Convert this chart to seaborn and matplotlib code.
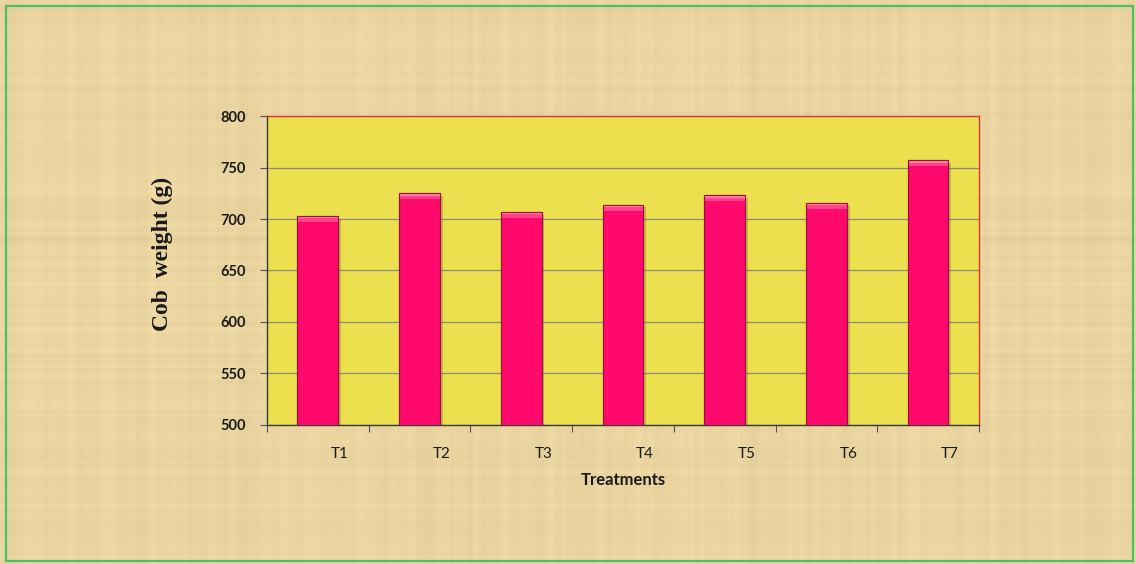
import numpy as np
import pandas as pd
import matplotlib
matplotlib.use("Agg")
import matplotlib.pyplot as plt
import matplotlib.transforms as mtransforms
import matplotlib.patheffects as pe
from matplotlib.patches import Rectangle
import seaborn as sns

# Cob weight per treatment
treatments = ["T1", "T2", "T3", "T4", "T5", "T6", "T7"]
cob_weight = [703, 725, 707, 714, 723, 716, 757]
y_ticks = [500, 550, 600, 650, 700, 750, 800]

df = pd.DataFrame({"Treatments": treatments, "Cob weight": cob_weight})

sns.set_theme(style="ticks")
plt.rcParams["font.family"] = ["Lato", "DejaVu Sans"]

PAPER = "#ebd6a2"
PLOT_BG = "#ece04f"
BAR = "#ff0a6c"

fig = plt.figure(figsize=(11.36, 5.64), dpi=100)
fig.patch.set_facecolor(PAPER)

# papyrus-like fibre texture behind everything
rng = np.random.default_rng(7)
h, w = 564, 1136
rows = np.convolve(rng.normal(0, 1, h + 20), np.ones(5) / 5, mode="same")[10:h + 10]
cols = np.convolve(rng.normal(0, 1, w + 20), np.ones(7) / 7, mode="same")[10:w + 10]
tex = 0.5 * rows[:, None] + 0.5 * cols[None, :]
tex = tex / np.abs(tex).max()
base = np.array(matplotlib.colors.to_rgb(PAPER))
img = np.clip(base[None, None, :] + 0.05 * tex[:, :, None], 0, 1)
bg_ax = fig.add_axes([0, 0, 1, 1], zorder=-10)
bg_ax.imshow(img, aspect="auto", extent=[0, 1, 0, 1], interpolation="bilinear")
bg_ax.axis("off")

ax = fig.add_axes([0.235, 0.2465, 0.6268, 0.5478])
ax.set_facecolor(PLOT_BG)

sns.barplot(data=df, x="Treatments", y="Cob weight", color=BAR, width=0.4,
            saturation=1, edgecolor="#9a1040", linewidth=0.8, ax=ax, zorder=3)

# bevelled top and soft drop shadow on each bar
for p in ax.patches:
    p.set_path_effects([pe.SimplePatchShadow(offset=(2, -2), shadow_rgbFace="#6b5a20", alpha=0.3),
                        pe.Normal()])
    x0, y0 = p.get_x(), p.get_y()
    bw, bh = p.get_width(), p.get_height()
    top = y0 + bh
    ax.add_patch(Rectangle((x0, top - 6), bw, 6, facecolor="#ff4f90", edgecolor="none",
                           alpha=0.85, zorder=4))
    ax.add_patch(Rectangle((x0, top - 2.5), bw, 2.5, facecolor="#ff8ab4", edgecolor="none",
                           alpha=0.85, zorder=4))
    ax.add_patch(Rectangle((x0, y0), bw, bh, facecolor="none", edgecolor="#9a1040",
                           linewidth=0.8, zorder=5))

ax.set_ylim(500, 800)
ax.set_xlim(-0.5, len(treatments) - 0.5)
ax.set_yticks(y_ticks)
ax.set_yticklabels([str(v) for v in y_ticks], fontsize=10.5, fontweight="bold", color="#1a1a1a")
ax.yaxis.grid(True, color="#8c8c78", linewidth=0.9, zorder=0)
ax.set_axisbelow(True)

ax.set_xticks(range(len(treatments)))
ax.set_xticklabels(treatments, fontsize=11, color="#1a1a1a")
ax.set_xticks(np.arange(-0.5, len(treatments), 1), minor=True)
ax.tick_params(axis="x", which="major", length=0, pad=16)
ax.tick_params(axis="x", which="minor", length=5, width=0.8, color="#555555", direction="out")
ax.tick_params(axis="y", length=5, width=0.8, color="#555555", direction="out", pad=10)
shift = mtransforms.ScaledTranslation(0.22, 0, fig.dpi_scale_trans)
for lbl in ax.get_xticklabels():
    lbl.set_transform(lbl.get_transform() + shift)

ax.set_xlabel("Treatments", fontsize=12, fontweight="bold", color="#1a1a1a", labelpad=8)
ax.set_ylabel("Cob  weight (g)", fontsize=17, fontweight="bold", color="#1a1a1a",
              family=["Liberation Serif", "DejaVu Serif"])
ax.yaxis.set_label_coords(-0.132, 0.555)

for side in ["left", "bottom"]:
    ax.spines[side].set_color("#3a3a3a")
    ax.spines[side].set_linewidth(1.0)
for side in ["top", "right"]:
    ax.spines[side].set_visible(True)
    ax.spines[side].set_color("#e0303a")
    ax.spines[side].set_linewidth(1.0)

# green frame around the chart
fig.patches.append(Rectangle((6 / 1136, 3 / 564), 1127 / 1136, 555 / 564, transform=fig.transFigure,
                             fill=False, edgecolor="#4cbf6a", linewidth=1.6, zorder=20))

fig.savefig("out.png", dpi=100, facecolor=fig.get_facecolor())
